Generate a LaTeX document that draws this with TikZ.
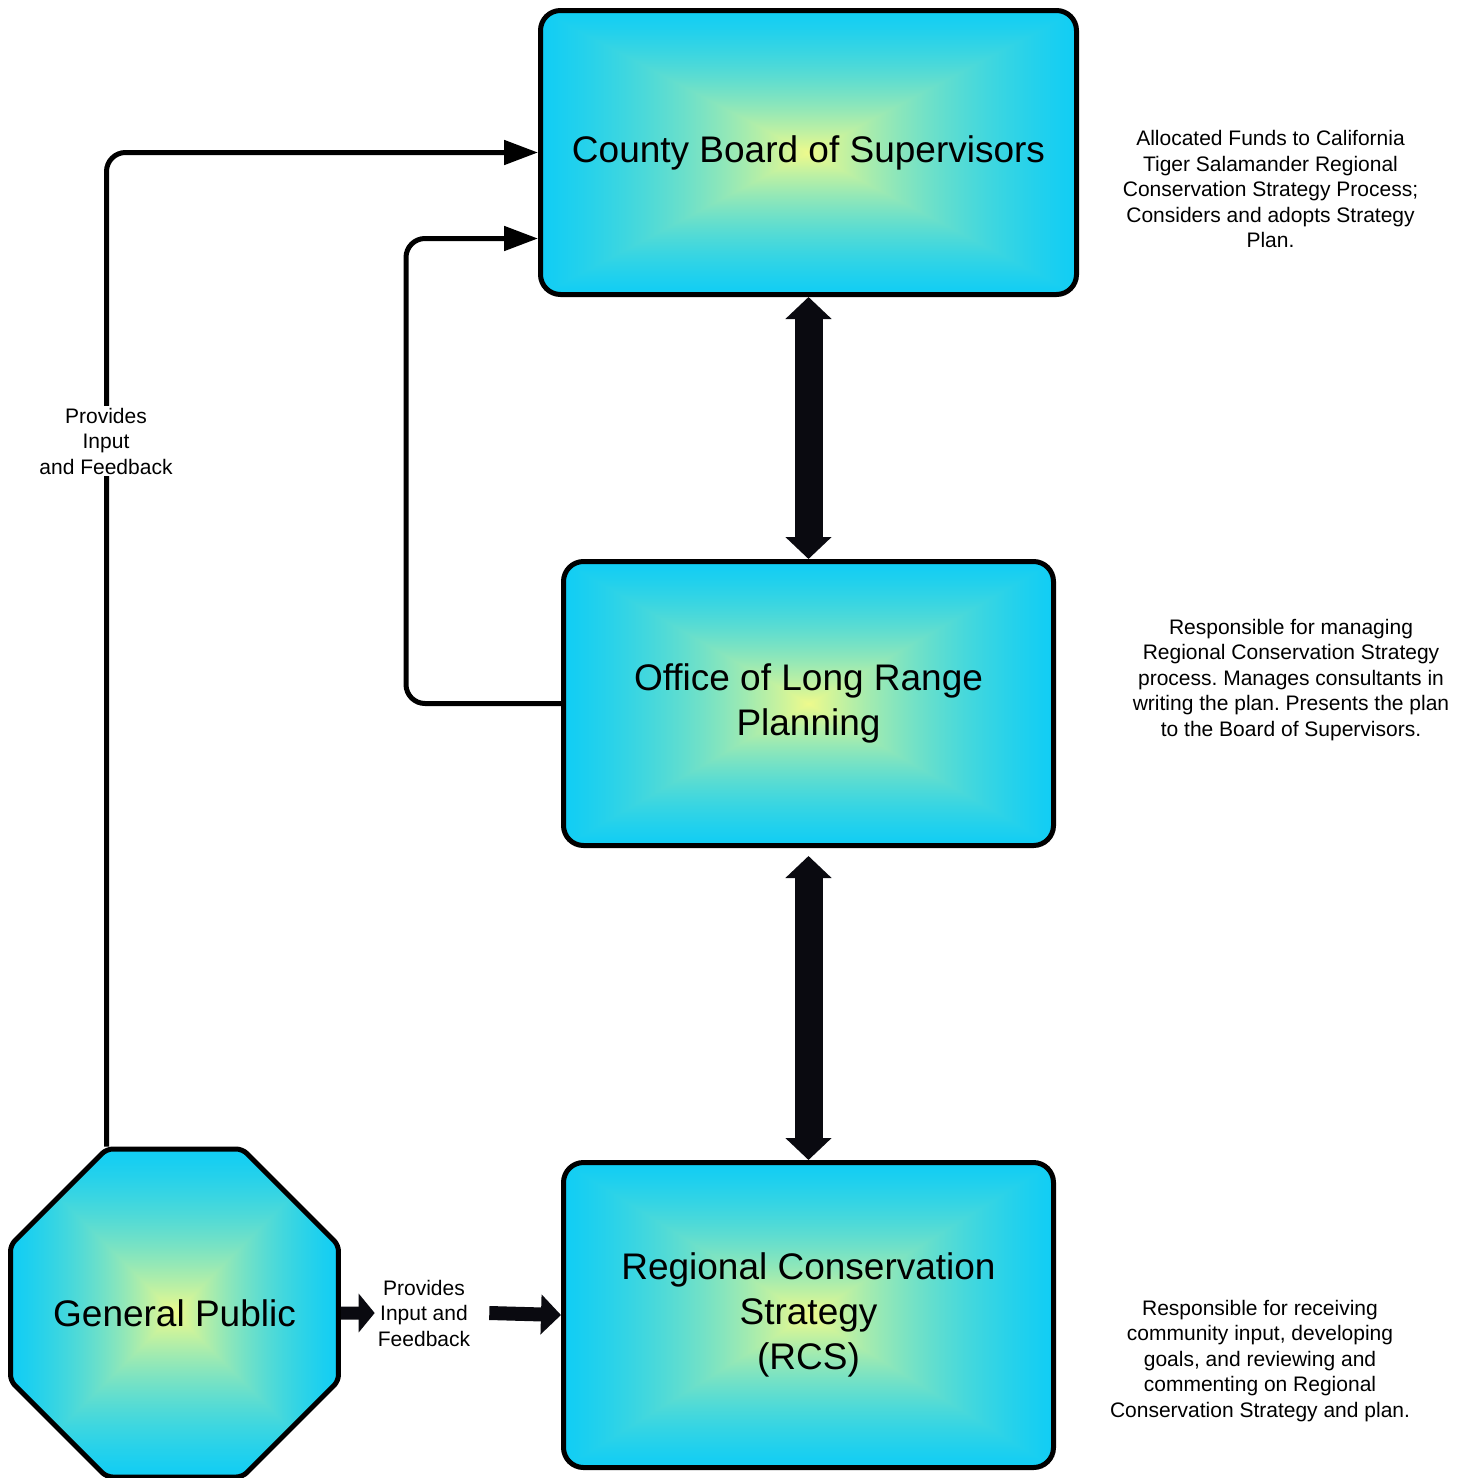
\documentclass[tikz,border=0pt]{standalone}
\usepackage{fontspec}
\setmainfont{Liberation Sans}
\usetikzlibrary{arrows.meta,shapes.geometric}
\definecolor{arrowblk}{RGB}{10,10,16}
\pgfdeclarefunctionalshading{pyrf}{\pgfpoint{0bp}{0bp}}{\pgfpoint{100bp}{100bp}}{}{%
  50 sub abs exch 50 sub abs
  2 copy lt {exch} if pop
  25 div dup 1 gt {pop 1} if
  dup 0.5 mul 1.5 exch sub mul
  dup 222 mul 238 exch sub 255 div exch
  dup 45 mul 250 exch sub 255 div exch
  105 mul 140 add 255 div
}
\begin{document}
\frenchspacing
\begin{tikzpicture}[x=1pt,y=-1pt,
  titlebox/.style={draw=black, line width=5pt, rounded corners=20pt, align=center,
    font=\fontsize{37}{45}\selectfont, shade, shading=pyrf},
  octbox/.style={draw=black, line width=5pt, regular polygon, regular polygon sides=8, inner sep=0pt,
    rounded corners=6pt, font=\fontsize{37}{45}\selectfont, shade, shading=pyrf},
  desc/.style={align=center, font=\fontsize{21}{25.5}\selectfont, inner sep=0pt},
  lbl/.style={align=center, font=\fontsize{21}{25.5}\selectfont, fill=white, inner xsep=3pt, inner ysep=2pt},
  conn/.style={line width=5pt, draw=black, rounded corners=19pt, -{Triangle[length=34pt,width=24pt]}},
  bigarrow/.style={line width=28pt, draw=arrowblk, {Triangle[length=22pt,width=45pt]}-{Triangle[length=22pt,width=45pt]}},
  smallarrow/.style={line width=13pt, draw=arrowblk, -{Triangle[length=16pt,width=38pt]}},
  medarrow/.style={line width=14pt, draw=arrowblk, -{Triangle[length=20pt,width=39pt]}}
]
\useasboundingbox (0,0) rectangle (1472,1478);

\node[titlebox, minimum width=536pt, minimum height=284pt] (cbs) at (808.5,152.5) {County Board of Supervisors};
\node[titlebox, minimum width=490pt, minimum height=284pt] (olrp) at (808.5,703.5) {Office of Long Range\\Planning};
\node[titlebox, minimum width=490pt, minimum height=305pt] (rcs) at (808.5,1315) {Regional Conservation\\Strategy\\(RCS)};
\node[octbox, minimum size=355pt] (gp) at (174.5,1313) {\makebox[0pt]{General Public}};

\node[desc] (d1) at (1270.5,189) {Allocated Funds to California\\Tiger Salamander Regional\\Conservation Strategy Process;\\Considers and adopts Strategy\\Plan.};
\node[desc] (d2) at (1291,680) {Responsible for managing\\Regional Conservation Strategy\\process. Manages consultants in\\writing the plan. Presents the plan\\to the Board of Supervisors.};
\node[desc] (d3) at (1260,1361) {Responsible for receiving\\community input, developing\\goals, and reviewing and\\commenting on Regional\\Conservation Strategy and plan.};

\draw[bigarrow] (cbs.south) -- (olrp.north);
\draw[bigarrow] ([yshift=-8pt]olrp.south) -- (rcs.north);

\draw[conn] ([xshift=-68pt]gp.north) |- (cbs.west);
\draw[conn] (olrp.west) -- ++(-155,0) |- ([yshift=-86pt]cbs.west);
\node[lbl] (l1) at (106,441) {Provides\\Input\\and Feedback};

\node[lbl, fill=none, inner ysep=0pt] (l2) at (424,1313) {Provides\\Input and\\Feedback};
\draw[smallarrow] (gp.east) -- (l2.west);
\draw[medarrow] ([xshift=16pt]l2.east) -- (rcs.west);
\end{tikzpicture}
\end{document}
